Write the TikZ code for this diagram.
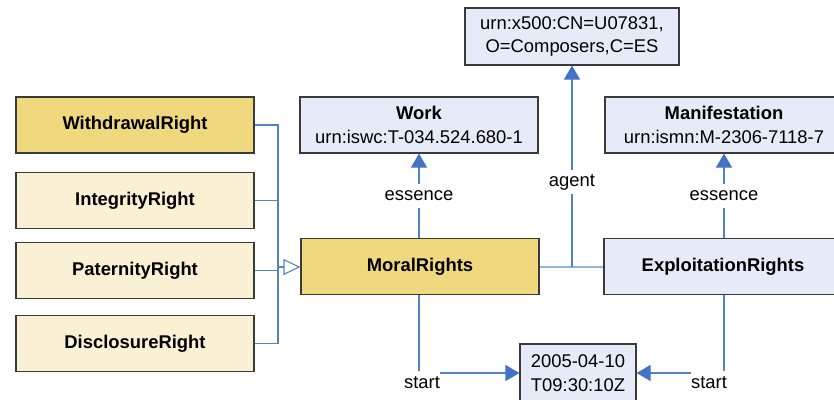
\documentclass[tikz,border=0pt]{standalone}
\usepackage{fontspec}
\setmainfont{Liberation Sans}
\usetikzlibrary{arrows.meta}
\definecolor{ydark}{HTML}{F0D87E}
\definecolor{ylight}{HTML}{FAF0D3}
\definecolor{bluebox}{HTML}{E6ECF7}
\definecolor{conn}{HTML}{5282C8}
\definecolor{connlight}{HTML}{95B3D7}
\definecolor{tipc}{HTML}{4472C4}
\definecolor{bord}{HTML}{3A3A3A}
\begin{document}
\begin{tikzpicture}[x=1pt,y=-1pt,
  txt/.style={font=\fontsize{18.4}{23.5}\selectfont},
  box/.style={txt, draw=bord, line width=1.1pt, minimum width=238pt, minimum height=56pt, inner sep=0pt, align=center},
  boldbox/.style={box, font=\fontsize{18.4}{23.5}\selectfont\bfseries},
  conline/.style={draw=conn, line width=1.1pt},
  tri/.style={conline, -{Triangle[length=14pt,width=16pt,fill=tipc,color=tipc]}},
  opentri/.style={conline, -{Triangle[open,length=17pt,width=16pt,fill=white,color=conn]}},
  lbl/.style={txt, fill=white, inner xsep=1pt, inner ysep=0pt, minimum height=24pt}
]
\useasboundingbox (0,0) rectangle (834,399);

% left boxes
\node[boldbox, fill=ydark]  (WR) at (135,125)   {WithdrawalRight};
\node[boldbox, fill=ylight] (IR) at (135,200.5) {IntegrityRight};
\node[boldbox, fill=ylight] (PR) at (135,270.5) {PaternityRight};
\node[boldbox, fill=ylight] (DR) at (135,343.5) {DisclosureRight};

% centre and right boxes
\node[box, fill=bluebox] (WK) at (419,125) {\textbf{Work}\\urn:iswc:T-034.524.680-1};
\node[box, fill=bluebox, minimum width=214pt, minimum height=57pt] (UR) at (572,36.5) {urn:x500:CN=U07831,\\O=Composers,C=ES};
\node[box, fill=bluebox] (MF) at (724,125) {\textbf{Manifestation}\\urn:ismn:M-2306-7118-7};
\node[boldbox, fill=ydark] (MR) at (420,266.5) {MoralRights};
\node[boldbox, fill=bluebox] (EX) at (723,266.5) {ExploitationRights};
\node[box, fill=bluebox, minimum width=116pt, minimum height=58pt] (DT) at (578,373) {2005-04-10\\T09:30:10Z};

% generalisation connectors
\coordinate (J) at (278,267);
\draw[conline] (WR.east) -| (J);
\draw[conline] (IR.east) -| (J);
\draw[conline] (PR.east) -| (J);
\draw[conline] (DR.east) -| (J);
\draw[opentri] (J) -- (MR.west |- J);

% MoralRights -- ExploitationRights and agent
\draw[draw=connlight, line width=2pt] (MR.east) -- (EX.west);
\coordinate (A) at (572,267);
\draw[tri] (A) -- (UR.south) node[lbl, pos=0.42] {agent};

% essence
\draw[tri] (WK.south |- MR.north) -- (WK.south) node[lbl, midway] {essence};
\draw[tri] (MF.south |- EX.north) -- (MF.south) node[lbl, midway] {essence};

% start
\draw[tri] (WK.south |- MR.south) |- (DT.west) node[lbl, pos=0.5, inner xsep=0pt, xshift=3pt, yshift=-10pt] {start};
\draw[tri] (MF.south |- EX.south) |- (DT.east) node[lbl, pos=0.5, inner xsep=0pt, xshift=-15pt, yshift=-10pt] {start};
\end{tikzpicture}
\end{document}
